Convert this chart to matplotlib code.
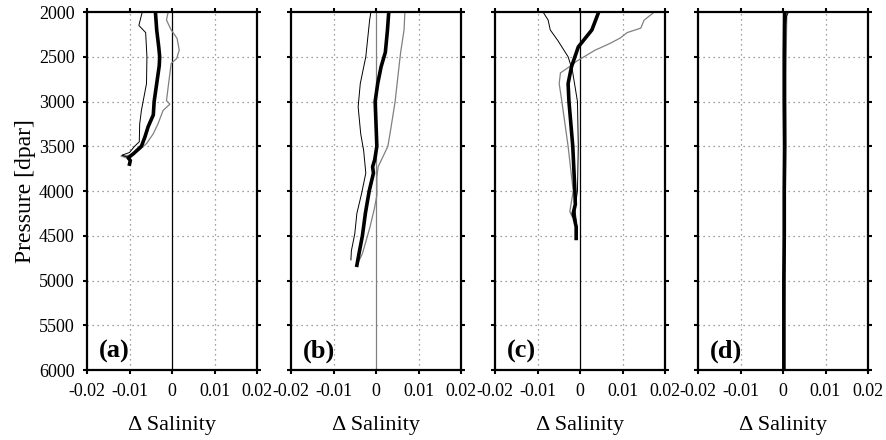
import numpy as np
import matplotlib
matplotlib.use('Agg')
import matplotlib.pyplot as plt

plt.rcParams['font.family'] = ['Liberation Serif', 'DejaVu Serif']
plt.rcParams['axes.unicode_minus'] = False

# panel (a)
a_mean_p = [2000, 2200, 2400, 2500, 2600, 2800, 3000, 3150, 3280, 3400, 3500, 3580, 3630, 3660, 3700]
a_mean_s = [-0.0039, -0.0036, -0.0031, -0.0029, -0.0030, -0.0036, -0.0042, -0.0044, -0.0056, -0.0064, -0.0072, -0.0090, -0.0103, -0.0098, -0.0100]
a_low_p = [2000, 2150, 2230, 2500, 2800, 2900, 3100, 3250, 3450, 3500, 3570, 3600, 3620, 3660]
a_low_s = [-0.0070, -0.0078, -0.0062, -0.0059, -0.0060, -0.0064, -0.0072, -0.0076, -0.0077, -0.0088, -0.0100, -0.0118, -0.0105, -0.0097]
a_high_p = [2000, 2090, 2200, 2295, 2425, 2520, 2575, 2800, 2990, 3030, 3100, 3250, 3360, 3470, 3540, 3600, 3610, 3640]
a_high_s = [-0.0009, -0.0013, -0.0002, 0.0012, 0.0017, 0.0011, -0.0002, -0.0008, -0.0013, -0.0005, -0.0021, -0.0033, -0.0044, -0.0060, -0.0076, -0.0096, -0.0120, -0.0100]

# panel (b)
b_mean_p = [2000, 2200, 2450, 2612, 2800, 3000, 3250, 3500, 3650, 3730, 3800, 4000, 4250, 4500, 4700, 4830]
b_mean_s = [0.0030, 0.0027, 0.0022, 0.0012, 0.0004, -0.0002, 0.0000, 0.0002, -0.0003, -0.0008, -0.0006, -0.0016, -0.0025, -0.0032, -0.0040, -0.0045]
b_low_p = [2000, 2090, 2500, 2800, 3060, 3360, 3550, 3800, 4030, 4250, 4480, 4670, 4770]
b_low_s = [-0.0012, -0.0015, -0.0024, -0.0037, -0.0042, -0.0036, -0.0029, -0.0024, -0.0034, -0.0045, -0.0050, -0.0058, -0.0059]
b_high_p = [2000, 2200, 2450, 2700, 3000, 3300, 3500, 3600, 3730, 3850, 4050, 4200, 4400, 4700, 4780]
b_high_s = [0.0068, 0.0066, 0.0058, 0.0052, 0.0045, 0.0035, 0.0028, 0.0018, 0.0005, 0.0002, 0.0002, -0.0004, -0.0014, -0.0032, -0.0040]

# panel (c)
c_mean_p = [2000, 2200, 2390, 2612, 2800, 3000, 3500, 4000, 4150, 4250, 4400, 4530]
c_mean_s = [0.0044, 0.0028, -0.0004, -0.0020, -0.0028, -0.0026, -0.0017, -0.0012, -0.0011, -0.0016, -0.0009, -0.0009]
c_low_p = [2000, 2090, 2200, 2320, 2500, 2650, 3000, 3500, 4000, 4200, 4330, 4480]
c_low_s = [-0.0087, -0.0075, -0.0070, -0.0052, -0.0028, -0.0018, -0.0006, -0.0004, -0.0006, -0.0012, -0.0009, -0.0007]
c_high_p = [2000, 2090, 2180, 2230, 2290, 2350, 2400, 2425, 2550, 2612, 2680, 2800, 2990, 3500, 4000, 4230, 4290]
c_high_s = [0.0175, 0.0151, 0.0143, 0.0111, 0.0095, 0.0071, 0.0048, 0.0036, -0.0008, -0.0025, -0.0046, -0.0049, -0.0043, -0.0028, -0.0016, -0.0024, -0.0018]

# panel (d)
d_mean_p = [2000, 2500, 3000, 3500, 4000, 4500, 5000, 5500, 6000]
d_mean_s = [0.0004, 0.0003, 0.0003, 0.0004, 0.0003, 0.0003, 0.0002, 0.0002, 0.0002]
d_low_p = [2000, 2050, 2200, 2500, 3000, 4000, 5000, 6000]
d_low_s = [0.0013, 0.0008, 0.0005, 0.0004, 0.0004, 0.0003, 0.0003, 0.0003]
d_high_p = [2000, 2300, 2700, 3200, 3700, 4200, 4800, 5400, 6000]
d_high_s = [0.0009, 0.0008, 0.0007, 0.0007, 0.0006, 0.0005, 0.0005, 0.0004, 0.0004]

panels = [
    ('(a)', a_mean_p, a_mean_s, a_low_p, a_low_s, a_high_p, a_high_s, 'black'),
    ('(b)', b_mean_p, b_mean_s, b_low_p, b_low_s, b_high_p, b_high_s, 'gray'),
    ('(c)', c_mean_p, c_mean_s, c_low_p, c_low_s, c_high_p, c_high_s, 'black'),
    ('(d)', d_mean_p, d_mean_s, d_low_p, d_low_s, d_high_p, d_high_s, 'black'),
]

xticks = [-0.02, -0.01, 0, 0.01, 0.02]
xticklabels = ['-0.02', '-0.01', '0', '0.01', '0.02']
yticks = [2000, 2500, 3000, 3500, 4000, 4500, 5000, 5500, 6000]

fig = plt.figure(figsize=(8.86, 4.40), dpi=100)
lefts = [87, 291, 495, 698]
for i, (lab, mp, ms, lp, ls, hp, hs, zc) in enumerate(panels):
    ax = fig.add_axes([lefts[i] / 886, 70 / 440, 170 / 886, 358 / 440])
    ax.set_xlim(-0.02, 0.02)
    ax.set_ylim(6000, 2000)
    for v in [-0.01, 0.01]:
        ax.axvline(v, color='gray', lw=0.9, ls=(0, (1, 3)), zorder=1)
    for p in yticks[1:-1]:
        ax.axhline(p, color='gray', lw=0.9, ls=(0, (1, 3)), zorder=1)
    ax.axvline(0, color=zc, lw=0.9, zorder=1)
    ax.plot(hs, hp, color='#808080', lw=0.9, zorder=2)
    ax.plot(ls, lp, color='black', lw=0.7, zorder=3)
    ax.plot(ms, mp, color='black', lw=2.6, zorder=4)
    ax.set_xticks(xticks)
    ax.set_xticklabels(xticklabels, fontsize=13)
    ax.set_yticks(yticks)
    if i == 0:
        ax.set_yticklabels([str(t) for t in yticks], fontsize=13)
        ax.set_ylabel('Pressure [dpar]', fontsize=17, labelpad=2)
    else:
        ax.set_yticklabels([])
    ax.tick_params(direction='out', length=3, width=1.5, top=True, right=True, pad=6)
    for s in ax.spines.values():
        s.set_linewidth(1.6)
    ax.set_xlabel('\u0394 Salinity', fontsize=16, labelpad=12)
    ax.text(0.07, 0.02, lab, transform=ax.transAxes, fontsize=19,
            fontweight='bold', ha='left', va='bottom')

fig.savefig('out.png', dpi=100)
